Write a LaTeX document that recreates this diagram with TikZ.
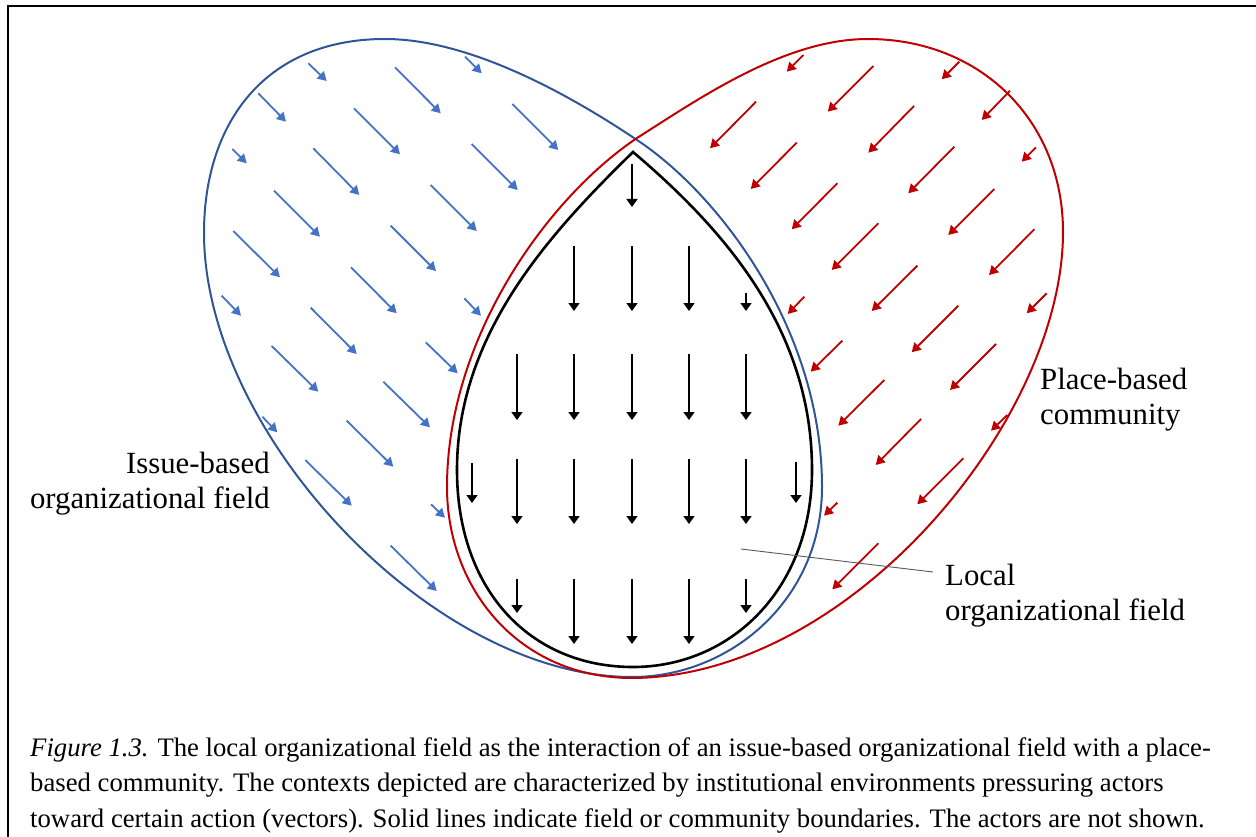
\documentclass[tikz,border=0pt]{standalone}
\usepackage{fontspec}
\setmainfont{Liberation Serif}
\usetikzlibrary{arrows.meta,positioning}
\definecolor{fieldblue}{RGB}{47,85,151}
\definecolor{vecblue}{RGB}{68,114,196}
\definecolor{commred}{RGB}{192,0,0}

\begin{document}
\begin{tikzpicture}[x=1pt,y=-1pt,
	bluevec/.style={vecblue, line width=1.8pt, -{Triangle[length=9pt,width=10pt]}},
	redvec/.style={commred, line width=1.8pt, -{Triangle[length=9pt,width=10pt]}},
	blackvec/.style={black, line width=1.7pt, -{Triangle[length=8pt,width=11pt]}},
	fieldlabel/.style={font=\fontsize{30.8}{35}\selectfont, inner sep=0pt}]
		\useasboundingbox (0,0) rectangle (1256,837);
		\draw[line width=1.6pt] (8,837) -- (8,6) -- (1256,6);

		% boundaries
		\draw[fieldblue, line width=2pt] (385,39) .. controls (470,39) and (570,95) .. (637,140)
			.. controls (720,195) and (822,330) .. (822,487)
			.. controls (822,600) and (730,677) .. (632,677)
			.. controls (432,677) and (204,433) .. (204,233)
			.. controls (204,123) and (265,39) .. (385,39) -- cycle;
		\draw[commred, line width=2pt] (868,39) .. controls (980,39) and (1063,120) .. (1063,232)
			.. controls (1063,420) and (850,677) .. (632,678)
			.. controls (520,678) and (447,590) .. (447,487)
			.. controls (447,340) and (545,200) .. (637,138)
			.. controls (700,98) and (785,39) .. (868,39) -- cycle;
		\draw[line width=2.6pt] (633,152) .. controls (548,235) and (457,335) .. (457,470)
			.. controls (457,590) and (530,667) .. (633,667)
			.. controls (730,667) and (812,590) .. (812,470)
			.. controls (812,330) and (725,230) .. (633,152) -- cycle;

		% issue-based field vectors
		\draw[bluevec] (308.3,63.3) -- (326.7,81);
		\draw[bluevec] (395,67.3) -- (440.7,113.3);
		\draw[bluevec] (465,56.7) -- (481.7,73.3);
		\draw[bluevec] (258.3,93.3) -- (286,121.7);
		\draw[bluevec] (354,108.3) -- (400,154.3);
		\draw[bluevec] (512.3,104) -- (558.3,150);
		\draw[bluevec] (232.3,149) -- (246.7,163.3);
		\draw[bluevec] (313.3,148.3) -- (359.3,195);
		\draw[bluevec] (471.7,144) -- (517.7,190);
		\draw[bluevec] (274,190.7) -- (320,236.7);
		\draw[bluevec] (430.7,185) -- (476.7,231);
		\draw[bluevec] (233.3,231) -- (280,277.3);
		\draw[bluevec] (390.7,225.7) -- (436,271);
		\draw[bluevec] (221.7,295.7) -- (241,315.7);
		\draw[bluevec] (351,267.3) -- (396.7,313.3);
		\draw[bluevec] (464.3,298.3) -- (481,315.7);
		\draw[bluevec] (310.7,307.7) -- (356.7,354);
		\draw[bluevec] (425.7,342.3) -- (457.7,373.3);
		\draw[bluevec] (271.7,346) -- (318.3,391.7);
		\draw[bluevec] (383.3,381.7) -- (430,427.3);
		\draw[bluevec] (262.3,416.7) -- (277.3,432.3);
		\draw[bluevec] (346.7,420.7) -- (393.3,466.7);
		\draw[bluevec] (305.3,460) -- (351.7,505.7);
		\draw[bluevec] (431,504.3) -- (445,517.7);
		\draw[bluevec] (390.7,545.7) -- (436.7,591);

		% place-based community vectors
		\draw[redvec] (803.3,55) -- (786.7,71.7);
		\draw[redvec] (873.3,66) -- (827.7,111.7);
		\draw[redvec] (959.3,61.7) -- (941.7,79.3);
		\draw[redvec] (756,101.7) -- (710,148.3);
		\draw[redvec] (1010,90.7) -- (981.7,120);
		\draw[redvec] (914,106) -- (868.3,152.7);
		\draw[redvec] (796.7,142.7) -- (750.7,189);
		\draw[redvec] (1036,147.3) -- (1021.7,161.7);
		\draw[redvec] (954.3,146.7) -- (908.3,193.3);
		\draw[redvec] (837.3,183.3) -- (791.7,229.3);
		\draw[redvec] (994.3,189) -- (948.3,235);
		\draw[redvec] (878.3,223.3) -- (831.7,270);
		\draw[redvec] (1034.3,229.3) -- (989,275);
		\draw[redvec] (804.3,296.7) -- (787.7,314);
		\draw[redvec] (917.3,265.7) -- (871.7,311);
		\draw[redvec] (1046.7,293.3) -- (1026.7,313.3);
		\draw[redvec] (958.3,305.7) -- (911.7,352.3);
		\draw[redvec] (842.3,340.7) -- (810.7,371.7);
		\draw[redvec] (996,344) -- (950,390);
		\draw[redvec] (884.3,380) -- (838.3,425.7);
		\draw[redvec] (1007.3,415) -- (991,430.7);
		\draw[redvec] (921,419) -- (875.7,465);
		\draw[redvec] (963.3,458.3) -- (917.3,504.3);
		\draw[redvec] (837.3,502.7) -- (824,515.7);
		\draw[redvec] (878.3,543.3) -- (832.3,589.3);

		% local field vectors
		\draw[blackvec] (632,164) -- (632,207);

		\draw[blackvec] (574,246) -- (574,311);
		\draw[blackvec] (632,246) -- (632,311);
		\draw[blackvec] (689,246) -- (689,311);
		\draw[blackvec] (746,293) -- (746,311);

		\draw[blackvec] (517,354) -- (517,420);
		\draw[blackvec] (574,354) -- (574,420);
		\draw[blackvec] (632,354) -- (632,420);
		\draw[blackvec] (689,354) -- (689,420);
		\draw[blackvec] (746,354) -- (746,420);

		\draw[blackvec] (472,463) -- (472,503);
		\draw[blackvec] (517,459) -- (517,524);
		\draw[blackvec] (574,459) -- (574,524);
		\draw[blackvec] (632,459) -- (632,524);
		\draw[blackvec] (689,459) -- (689,524);
		\draw[blackvec] (746,459) -- (746,524);
		\draw[blackvec] (796,462) -- (796,503);

		\draw[blackvec] (517,579) -- (517,613);
		\draw[blackvec] (574,579) -- (574,644);
		\draw[blackvec] (632,579) -- (632,644);
		\draw[blackvec] (689,579) -- (689,644);
		\draw[blackvec] (746,579) -- (746,613);

		% labels (base = last line)
		\node[fieldlabel, anchor=base east, align=right] (issuelbl) at (270,508) {Issue-based\\organizational field};
		\node[fieldlabel, anchor=base west, align=left] (placelbl) at (1040,424) {Place-based\\community};
		\node[fieldlabel, anchor=base west, align=left] (locallbl) at (945,620) {Local\\organizational field};
		\coordinate (localpt) at (741,549);
		\draw[black!65, line width=0.9pt] (localpt) -- ([xshift=-12pt,yshift=48pt]locallbl.base west);

		\node[fieldlabel, font=\fontsize{26.7}{35.5}\selectfont, anchor=base west, align=left] (caption) at (30,827) {\textit{Figure 1.3.} The local organizational field as the interaction of an issue-based organizational field with a place-\\based community. The contexts depicted are characterized by institutional environments pressuring actors\\toward certain action (vectors). Solid lines indicate field or community boundaries. The actors are not shown.};
	\end{tikzpicture}
\end{document}
